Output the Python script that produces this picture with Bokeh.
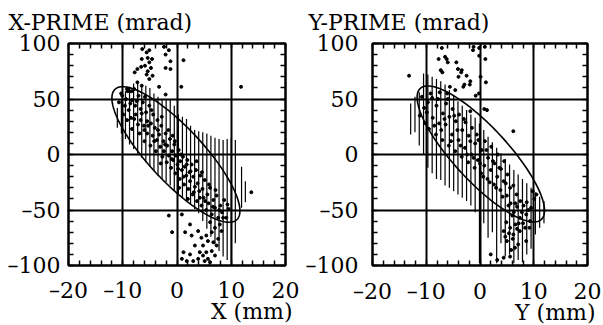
import numpy as np
from bokeh.plotting import figure
from bokeh.models import (Range1d, SingleIntervalTicker, FixedTicker, LinearAxis,
                          Grid, Title)
from bokeh.layouts import row
from bokeh.embed import file_html
from bokeh.resources import INLINE

FONT = "DejaVu Serif"
FSIZE = "22px"

# ---------------- axes / ticks ----------------
x_ticks = [-20, -10, 0, 10, 20]
x_tick_labels = ["\u201320", "\u201310", "0", "10", "20"]
y_ticks = [-100, -50, 0, 50, 100]
y_tick_labels = ["\u2013100", "\u201350", "0", "50", "100"]
x_minor_step = 2
y_minor_step = 10

# ---------------- left panel (X) ----------------
left_title = "X-PRIME (mrad)"
left_xlabel = "X (mm)"
# acceptance ellipse: centre, half-width in x, slope, half-height at centre
left_ell = dict(xc=-0.2, yc=0.0, half_x=11.8, slope=4.3, half_y=34.0)

left_line_x = [-11.0, -10.25, -9.5, -8.75, -8.0, -7.25, -6.5, -5.75, -5.0, -4.25,
               -3.5, -2.75, -2.0, -1.25, -0.5, 0.25, 1.0, 1.75, 2.5, 3.25,
               4.0, 4.75, 5.5, 6.25, 7.0, 7.75, 8.5, 9.25, 10.0, 10.75, 11.9, 12.6]
left_line_top = [42, 50, 57, 61, 64, 64, 63, 62, 60, 55,
                 52, 50, 50, 50, 44, 36, 34, 32, 26, 22,
                 21, 20, 19, 17, 15, 14, 13, 14, 15, 13, -11, -24]
left_line_bottom = [24, 19, 14, 9, 5, 1, -3, -7, -11, -15,
                    -19, -22, -25, -28, -32, -36, -39, -42, -45, -49,
                    -53, -60, -67, -74, -81, -87, -92, -95, -97, -80, -48, -43]

left_dot_x = [
    -6.4, -5.6, -5.1, -2.4, -1.5, -2.1, -6.5, -5.4, -4.6, -1.2, 1.2, -5.9, -5.1, -7.3, -6.6,
    -2.1, -1.2, -5.4, -4.8, -7.8, -5.6, -4.5, -5.1, -7.3, -6.5, -3.3, 0.8, 11.8, -2.1, -10.3,
    -8.4, -9.2,
    -10.7, -10.1, -9.9, -9.6, -9.2, -9.1, -8.9, -8.5, -8.3, -8.3, -7.9, -7.7, -7.6, -7.2, -7.1,
    -6.9, -6.7, -6.7, -6.3, -6.1, -6.0, -5.7, -5.5, -5.5, -5.1, -4.9, -4.8, -4.5, -4.4, -4.1,
    -3.9, -3.7, -3.6, -3.3, -3.1, -2.9, -2.7, -2.5, -2.4, -2.1, -1.9, -1.8, -1.5, -1.3, -1.1,
    -0.9, -0.7, -0.5, -0.3, -0.2, 0.1, 0.3, 0.5, 0.6, 0.9, 1.1, 1.3, 1.4, 1.7, 1.9,
    2.1, 2.3, 2.4, 2.7, 2.9, 3.0, 3.3, 3.5, 3.7, 3.8, 4.1, 4.3, 4.5, 4.7, 4.9,
    5.1, 5.4, 5.6, 5.8, 6.1, 6.4, 6.7, 7.0, 7.3, 7.6, 8.0, 8.3, 8.7, 9.1, 9.5,
    -9.4, -8.6, -7.9, -7.4, -6.5, -5.9, -5.3, -4.7, -4.2, -3.5, -2.8, -2.2, -1.6, -1.0, -0.4,
    0.2, 0.7, 1.2, 1.8, 2.5, 3.1, 3.6, 4.2, 4.6, 5.2, 5.9, 6.6, 7.1, 7.8, 8.5,
    9.3, -0.8, 0.4, 2.0, -3.0, -6.0,
    -1.5, -0.9, 13.7, 0.9, 2.4, 1.5, 2.7, 3.9, 4.5, 5.4, 5.7, 6.4, 3.3, 4.8, 1.2,
    2.4, 3.9, 5.1, 5.7, 7.0, 6.4, 0.9, 1.8, 7.3, 7.6, 6.7, 4.2, 5.4, 6.1, 3.0,
    4.8, 6.1, 7.0, 8.2, 7.9]
left_dot_y = [
    95, 92, 94, 97, 94, 90, 86, 87, 86, 84, 85, 80, 83, 77, 79,
    78, 77, 75, 78, 74, 72, 71, 68, 65, 62, 61, 61, 61, 54, 55,
    57, 59,
    47, 53, 36, 44, 31, 57, 40, 33, 49, 23, 59, 44, 36, 27, 53,
    19, 41, 31, 47, 26, 12, 38, 30, 19, 44, 8, 28, 17, 36, 24,
    3, 13, 31, 18, 7, 26, -2, 12, 3, 19, -7, 8, -1, 14, -12,
    3, -5, 9, -17, -1, -9, 4, -22, -6, -14, -2, -27, -11, -19, -5,
    -31, -16, -24, -9, -36, -20, -29, -14, -42, -26, -33, -19, -46, -31, -39,
    -23, -50, -36, -44, -30, -54, -41, -48, -37, -57, -46, -52, -41, -57, -49,
    50, 46, 32, 48, 37, 52, 26, 40, 12, 22, 34, 9, 22, -4, 12,
    -13, 0, -20, -9, -15, -34, -6, -39, -16, -42, -27, -47, -32, -50, -57,
    -45, 17, -30, -40, -8, 22,
    -55, -70, -34, -54, -63, -70, -73, -69, -75, -73, -78, -70, -82, -82, -88,
    -90, -94, -96, -94, -91, -87, -94, -96, -82, -76, -79, -88, -88, -97, -96,
    -91, -61, -66, -69, -63]

# ---------------- right panel (Y) ----------------
right_title = "Y-PRIME (mrad)"
right_xlabel = "Y (mm)"
right_ell = dict(xc=0.15, yc=0.5, half_x=11.85, slope=4.3, half_y=34.0)

right_line_x = [-12.9, -12.1, -11.3, -10.5, -9.7, -8.9, -8.1, -7.3, -6.5, -5.7,
                -4.9, -4.1, -3.3, -2.5, -1.7, -0.9, -0.1, 0.7, 1.5, 2.3,
                3.1, 3.9, 4.7, 5.5, 6.3, 7.1, 7.9, 8.7, 9.5, 10.3, 11.1, 11.9]
right_line_top = [46, 52, 56, 73, 72, 70, 68, 66, 63, 58,
                  53, 48, 44, 40, 36, 33, 28, 22, 16, 11,
                  6, 1, -4, -9, -14, -18, -22, -26, -30, -34, -38, -42]
right_line_bottom = [18, 20, 8, 0, -12, -17, -22, -23, -28, -30,
                     -33, -36, -39, -42, -46, -52, -98, -62, -75, -70,
                     -98, -80, -92, -90, -98, -95, -97, -90, -85, -72, -66, -62]

right_dot_x = [
    -13.2, -7.7, -7.3, -7.0, -6.5, -6.0, -3.4, -4.0, -2.5, -1.9, -3.1, -5.6, -4.6, -6.1, -1.3,
    -1.2, -7.1, -6.2, -4.4, -4.1, -3.5, -2.9, -1.8, -0.15, -0.15, 1.0, 1.1, -0.8, 0.8, -1.8,
    0.9, 0.1, 1.3, 6.2, -0.2,
    -10.4, -10.1, -9.7, -9.5, -8.9, -8.8, -8.2, -8.1, -7.6, -7.5, -7.0, -6.9, -6.4, -6.3, -5.8,
    -5.7, -5.2, -5.1, -4.6, -4.5, -4.0, -3.9, -3.4, -3.3, -2.8, -2.7, -2.2, -2.1, -1.6, -1.5,
    -1.0, -0.9, -0.4, -0.3, 0.2, 0.3, 0.8, 0.9, 1.4, 1.5, 2.0, 2.1, 2.6, 2.7, 3.2,
    3.3, 3.8, 3.9, 4.4, 4.5, 5.0, 5.1, 5.6, 5.7, 6.2, 6.3, 6.8, 6.9, 7.4, 7.5,
    8.0, 8.1, 8.6, 8.7, 9.3, 9.5, 10.1, 4.9, 5.4, 6.1, 6.6, 7.1, 4.7, 5.8, 6.9,
    -9.9, -9.2, -8.5, -7.8, -7.2, -6.6, -6.0, -5.4, -4.8, -4.2, -3.6, -3.0, -2.4, -1.8, -1.2,
    -0.6, 0.0, 0.6, 1.2, 1.8, 2.4, 3.0, 3.6, 4.2, 4.8, 5.3, 6.0, 6.6, 7.2, 7.8,
    8.4, 9.0, -10.8, -11.2,
    2.0, 3.2, 4.4, 5.6, 6.5, 5.0, 6.2, 5.6, 7.4, 4.4, 8.6, 9.2, 9.8, 10.5]
right_dot_y = [
    71, 86, 76, 74, 88, 83, 76, 70, 71, 63, 61, 61, 58, 55, 94,
    97, 96, 86, 83, 77, 74, 63, 66, 96, 89, 86, 65, 53, 41, 39,
    97, 70, 40, 21, 55,
    42, 28, 47, 23, 51, 33, 18, 44, 28, 56, 13, 37, 27, 46, 8,
    34, 18, 41, 3, 30, 13, 36, -2, 22, 6, 29, -7, 17, 0, 24,
    -12, 10, -5, 13, -17, 4, -10, 12, -22, -3, -14, 7, -27, -8, -20,
    0, -32, -13, -24, -6, -37, -18, -30, -44, -28, -52, -36, -47, -57, -42,
    -62, -46, -54, -43, -60, -48, -40, -61, -71, -76, -63, -81, -74, -86, -67,
    38, 55, 26, 50, 22, 32, 50, 12, 35, 22, 8, 32, 0, 12, -3,
    18, -8, -20, 4, -25, -6, -30, -12, -38, -26, -46, -55, -44, -62, -52,
    -66, -50, 52, 35,
    -90, -95, -93, -92, -84, -78, -72, -66, -69, -69, -78, -66, -33, -36]


def ellipse_points(xc, yc, half_x, slope, half_y, n=240):
    t = np.linspace(0, 2 * np.pi, n)
    ex = xc + half_x * np.cos(t)
    ey = yc - slope * half_x * np.cos(t) + half_y * np.sin(t)
    return ex, ey


def set_standoff(t, v, fallback):
    try:
        t.standoff = v
    except Exception:
        t.standoff = fallback


def make_panel(width, frame_h, border_left, border_right, ylab_standoff, xlab_standoff,
               title, xlabel, ell, lx, ltop, lbot, dx, dy, title_offset, xl_offset):
    height = 325
    p = figure(width=width, height=height, output_backend="svg", toolbar_location=None,
               x_range=Range1d(-20, 20), y_range=Range1d(-100, 100),
               min_border_left=border_left, min_border_right=border_right,
               min_border_top=43, min_border_bottom=height - 43 - frame_h,
               x_axis_type=None, y_axis_type=None, title=None)
    p.background_fill_color = "white"
    p.border_fill_color = "white"
    p.outline_line_color = "black"
    p.outline_line_width = 2

    xt = SingleIntervalTicker(interval=10, num_minor_ticks=5)
    yt = SingleIntervalTicker(interval=50, num_minor_ticks=5)
    xt_minor = FixedTicker(ticks=[], minor_ticks=list(np.arange(-20, 20.1, x_minor_step)))
    yt_minor = FixedTicker(ticks=[], minor_ticks=list(np.arange(-100, 100.1, y_minor_step)))

    def style(ax):
        ax.axis_line_color = "black"
        ax.axis_line_width = 2
        ax.major_tick_in = 0
        ax.major_tick_out = 0
        ax.minor_tick_in = 5
        ax.minor_tick_out = 0
        ax.minor_tick_line_width = 1.5
        ax.minor_tick_line_color = "black"
        ax.major_label_text_font = FONT
        ax.major_label_text_font_size = FSIZE
        ax.major_label_text_color = "black"

    bottom = LinearAxis(ticker=xt)
    style(bottom)
    bottom.major_label_overrides = {v: s for v, s in zip(x_ticks, x_tick_labels)}
    bottom.major_label_standoff = xlab_standoff
    left = LinearAxis(ticker=yt)
    style(left)
    left.major_label_overrides = {v: s for v, s in zip(y_ticks, y_tick_labels)}
    left.major_label_standoff = ylab_standoff
    top = LinearAxis(ticker=xt_minor)
    style(top)
    top.major_label_standoff = 0
    right = LinearAxis(ticker=yt_minor)
    style(right)
    right.major_label_standoff = 0

    p.add_layout(bottom, "below")
    p.add_layout(left, "left")
    p.add_layout(top, "above")
    p.add_layout(right, "right")

    p.add_layout(Grid(dimension=0, ticker=xt, grid_line_color="black", grid_line_width=2))
    p.add_layout(Grid(dimension=1, ticker=yt, grid_line_color="black", grid_line_width=2))

    # title box fills the top border; text hangs from its top edge
    ttl = Title(text=title, align="left", offset=title_offset, vertical_align="top",
                text_font=FONT, text_font_size=FSIZE, text_font_style="normal",
                text_color="black")
    ttl.standoff = 14
    p.add_layout(ttl, "above")

    xl = Title(text=xlabel, align="right", offset=xl_offset, vertical_align="top",
               text_font=FONT, text_font_size=FSIZE, text_font_style="normal",
               text_color="black")
    set_standoff(xl, -13, 0)
    p.add_layout(xl, "below")

    p.segment(x0=lx, y0=lbot, x1=lx, y1=ltop, line_color="black", line_width=1.2)
    ex, ey = ellipse_points(**ell)
    p.line(ex, ey, line_color="black", line_width=1.6)
    p.scatter(dx, dy, size=3, color="black", marker="circle")
    return p


p1 = make_panel(300, 223, 68, 15, 8, 12, left_title, left_xlabel, left_ell,
                left_line_x, left_line_top, left_line_bottom, left_dot_x, left_dot_y,
                -60, -7)
p2 = make_panel(303, 222, 72, 16, 14, 13, right_title, right_xlabel, right_ell,
                right_line_x, right_line_top, right_line_bottom, right_dot_x, right_dot_y,
                -64, -8)

layout = row(p1, p2)
open("out.html", "w").write(file_html(layout, INLINE))
